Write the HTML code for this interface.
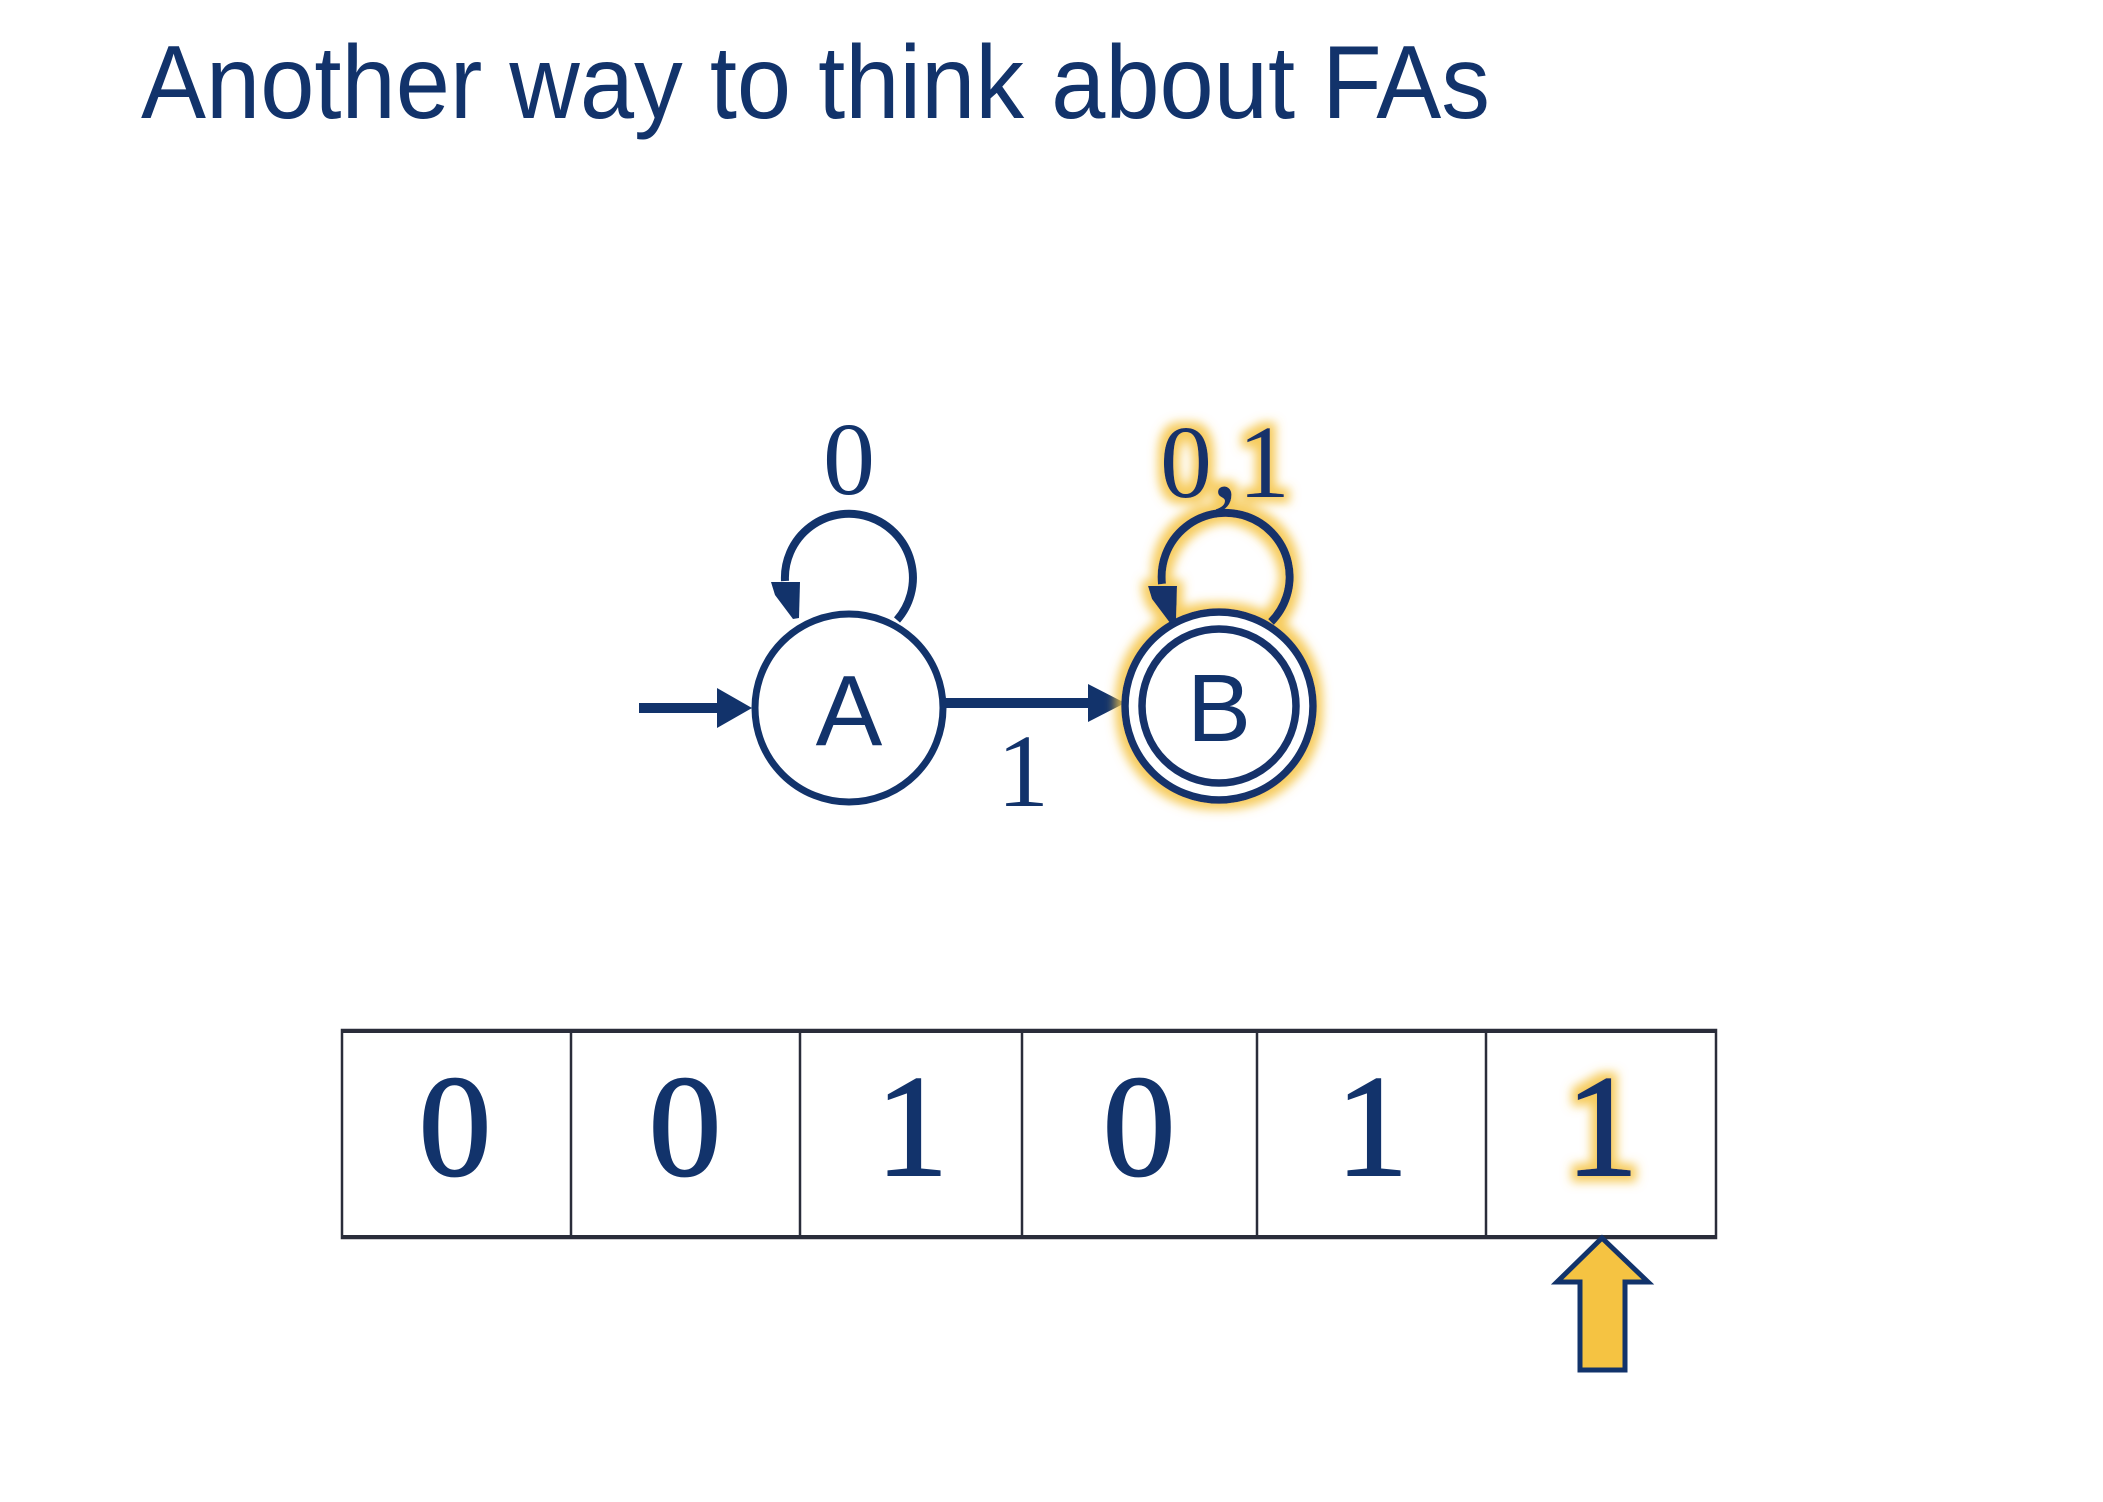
<!DOCTYPE html>
<html><head><meta charset="utf-8"><style>html,body{margin:0;padding:0;background:#fff}svg{display:block}</style></head>
<body>
<svg width="2103" height="1502" viewBox="0 0 2103 1502" xmlns="http://www.w3.org/2000/svg">
<defs>
<filter id="glow" x="-30%" y="-30%" width="160%" height="160%">
<feMorphology in="SourceAlpha" operator="dilate" radius="6" result="d"/>
<feGaussianBlur in="d" stdDeviation="5" result="b"/>
<feFlood flood-color="#f5c342" flood-opacity="0.85"/>
<feComposite in2="b" operator="in" result="g"/>
<feMerge><feMergeNode in="g"/><feMergeNode in="SourceGraphic"/></feMerge>
</filter>
</defs>
<text x="141" y="118" font-family="Liberation Sans, sans-serif" font-size="104" fill="#12336b" textLength="1349" lengthAdjust="spacingAndGlyphs">Another way to think about FAs</text>

<g stroke="#12336b" fill="none" stroke-width="7">
<circle cx="849" cy="708" r="94" fill="#fff"/>
<path d="M 897 620 A 64 64 0 1 0 785 581" stroke-width="8"/>
<line x1="639" y1="708" x2="722" y2="708" stroke-width="10"/>
<line x1="944" y1="703" x2="1095" y2="703" stroke-width="10"/>
</g>
<g fill="#12336b">
<polygon points="717,688 752,708 717,728"/>
<polygon points="1088,684 1125,703 1088,722"/>
<polygon points="771,582 800,582 799,618 793,619 775,595"/>
</g>
<text x="1023" y="806" font-family="Liberation Serif, serif" font-size="104" fill="#12336b" text-anchor="middle">1</text>
<text x="849" y="494" font-family="Liberation Serif, serif" font-size="104" fill="#12336b" text-anchor="middle">0</text>
<text x="849" y="745" font-family="Liberation Sans, sans-serif" font-size="100" fill="#12336b" text-anchor="middle">A</text>

<g filter="url(#glow)">
<g stroke="#12336b" fill="none" stroke-width="7.5">
<circle cx="1219" cy="706" r="94" fill="#fff"/>
<circle cx="1219" cy="706" r="77"/>
<path d="M 1271 622 A 64 64 0 1 0 1162 584" stroke-width="8"/>
</g>
<polygon fill="#12336b" points="1148,586 1177,586 1176,622 1170,623 1152,599"/>
<text x="1225" y="497" font-family="Liberation Serif, serif" font-size="104" fill="#12336b" text-anchor="middle">0,1</text>
</g>
<text x="1219" y="741" font-family="Liberation Sans, sans-serif" font-size="96" fill="#12336b" text-anchor="middle">B</text>

<g stroke="#2a2d3a" fill="none">
<rect x="342" y="1030" width="1374" height="208" stroke-width="2.5"/>
<line x1="342" y1="1031" x2="1716" y2="1031" stroke-width="4"/>
<line x1="342" y1="1237" x2="1716" y2="1237" stroke-width="4"/>
<line x1="571" y1="1030" x2="571" y2="1238" stroke-width="2.5"/>
<line x1="800" y1="1030" x2="800" y2="1238" stroke-width="2.5"/>
<line x1="1022" y1="1030" x2="1022" y2="1238" stroke-width="2.5"/>
<line x1="1257" y1="1030" x2="1257" y2="1238" stroke-width="2.5"/>
<line x1="1486" y1="1030" x2="1486" y2="1238" stroke-width="2.5"/>
</g>
<g font-family="Liberation Serif, serif" font-size="145" fill="#12336b" text-anchor="middle" stroke="#12336b" stroke-width="2">
<text x="455" y="1175">0</text>
<text x="685" y="1175">0</text>
<text x="912" y="1175">1</text>
<text x="1139" y="1175">0</text>
<text x="1372" y="1175">1</text>
<text x="1602" y="1175" filter="url(#glow)">1</text>
</g>
<polygon points="1602,1238 1648,1282 1625,1282 1625,1370 1580,1370 1580,1282 1557,1282" fill="#f5c342" stroke="#12336b" stroke-width="5"/>
</svg>
</body></html>
